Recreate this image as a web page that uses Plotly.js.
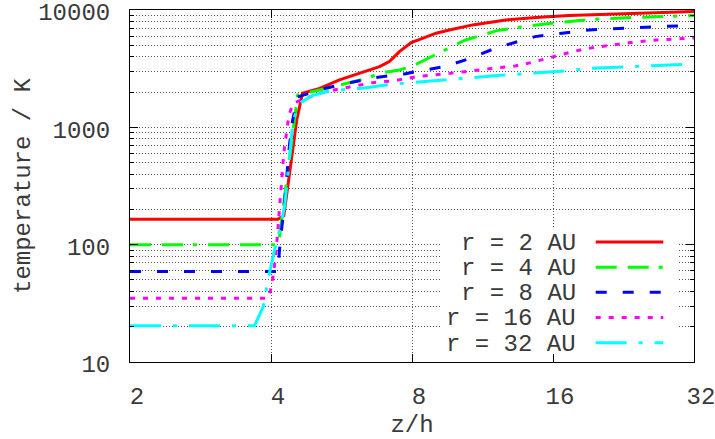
<!DOCTYPE html>
<html>
<head>
<meta charset="utf-8">
<script src="https://cdn.plot.ly/plotly-3.0.1.min.js"></script>
<style>html,body{margin:0;padding:0;background:#fff;}#chart{width:715px;height:439px;}</style>
</head>
<body>
<div id="chart"></div>
<script>
// ---- data (z/h, temperature in K) ----
const seriesNames = ["r = 2 AU", "r = 4 AU", "r = 8 AU", "r = 16 AU", "r = 32 AU"];

const zh_r2 = [2, 4.14, 4.26, 4.54, 4.67, 5.08, 5.6, 6.18, 6.82, 7.16, 7.52, 7.97, 8.43, 9.01, 9.61, 10.78, 12.69, 14.95, 17.3, 22, 27, 32];
const T_r2  = [165, 165, 176, 1157, 1950, 2150, 2536, 2892, 3292, 3631, 4420, 5276, 5750, 6342, 6763, 7465, 8235, 8683, 8958, 9200, 9450, 9690];

const zh_r4 = [2, 4.15, 4.24, 4.49, 4.56, 5.08, 5.83, 6.43, 6.82, 7.52, 7.97, 8.71, 9.46, 10.38, 12.08, 14.02, 16.25, 20.06, 24.6, 32];
const T_r4  = [100, 100, 198, 1157, 1888, 2084, 2404, 2622, 2892, 3086, 3292, 3906, 4632, 5527, 6637, 7278, 7800, 8397, 8683, 8958];

const zh_r8 = [2, 4.14, 4.17, 4.28, 4.38, 4.45, 4.56, 5.26, 5.83, 6.65, 7.71, 8.3, 9.4, 10.66, 12.04, 13.62, 14.65, 16.73, 19.1, 21.07, 23.93, 27.3, 32];
const T_r8  = [59, 59, 90, 240, 708, 1157, 1816, 2167, 2377, 2653, 2853, 3026, 3292, 3882, 4722, 5452, 5933, 6342, 6763, 6900, 7110, 7245, 7390];

const zh_r16 = [2, 3.94, 4.01, 4.09, 4.13, 4.17, 4.22, 4.26, 4.31, 4.37, 4.46, 5.03, 5.55, 6.59, 7.34, 8.22, 9.38, 10.69, 12.08, 13.28, 14.35, 15.31, 16.33, 17.32, 18.82, 20.56, 23.45, 26.67, 32];
const T_r16  = [35, 35, 43.6, 77, 123, 205, 344, 605, 861, 1276, 1606, 1926, 2113, 2404, 2500, 2706, 2853, 3026, 3228, 3338, 3560, 3828, 4062, 4333, 4688, 4944, 5276, 5559, 5780];

const zh_r32 = [2, 3.69, 3.85, 3.94, 4.07, 4.21, 4.28, 4.46, 4.61, 4.88, 5.34, 6.33, 7.23, 8.38, 10.4, 12.16, 14.37, 16.98, 19.2, 23.25, 32];
const T_r32  = [20.4, 20.4, 29.6, 50, 90, 153, 218, 1157, 1606, 1853, 2044, 2167, 2330, 2453, 2642, 2760, 2892, 3026, 3178, 3280, 3470];

const xTickVals = [2, 4, 8, 16, 32];
const xTickText = ["2", "4", "8", "16", "32"];
const yTickVals = [10, 100, 1000, 10000];
const yTickText = ["10", "100", "1000", "10000"];
const yMinorVals = [20,30,40,50,60,70,80,90,200,300,400,500,600,700,800,900,2000,3000,4000,5000,6000,7000,8000,9000];

// ---- styles ----
const colors = ["#ff0000", "#00ff00", "#0000ff", "#ff00ff", "#00ffff"];
const dashes = ["solid", "21px,11px,21px,10px,4px,11px", "11px,16px", "5px,8px", "31px,12px,4px,12px"];
const FONT = "Liberation Mono, Courier New, monospace";
const TXT = "#3a3a3a";

const xs = [zh_r2, zh_r4, zh_r8, zh_r16, zh_r32];
const ys = [T_r2, T_r4, T_r8, T_r16, T_r32];

const traces = xs.map((x, i) => ({
  x: x, y: ys[i], type: "scatter", mode: "lines", name: seriesNames[i],
  line: {color: colors[i], width: 3, dash: dashes[i]}, showlegend: false
}));

// manual gnuplot-style legend (text right, sample line to the right)
const legX0 = 0.8257, legX1 = 0.9456, legTextX = 0.7938;
const legY0 = 0.341, legStep = 0.0715;
const shapes = [{
  type: "rect", xref: "paper", yref: "paper",
  x0: 0.551, x1: 0.9716, y0: 0.025, y1: 0.381,
  fillcolor: "#ffffff", line: {width: 0}, layer: "above"
}];
const annotations = [];
seriesNames.forEach((nm, i) => {
  const yy = legY0 - i * legStep;
  shapes.push({type: "line", xref: "paper", yref: "paper",
    x0: legX0, x1: legX1, y0: yy, y1: yy,
    line: {color: colors[i], width: 3, dash: dashes[i]}, layer: "above"});
  annotations.push({xref: "paper", yref: "paper", x: legTextX, y: yy - 0.004,
    xanchor: "right", yanchor: "middle", showarrow: false, text: nm,
    font: {family: FONT, size: 24, color: TXT}});
});

const gridDash = "1px,2px";
const gridColor = "#555";

const layout = {
  width: 715, height: 439,
  margin: {l: 130, r: 21, t: 10, b: 77, pad: 0},
  paper_bgcolor: "#fff", plot_bgcolor: "#fff",
  font: {family: FONT, size: 24, color: TXT},
  showlegend: false,
  xaxis: {
    type: "log", range: [Math.log10(2) - 1e-5, Math.log10(32) + 1e-5],
    tickmode: "array", tickvals: xTickVals, ticktext: xTickText,
    ticks: "inside", ticklen: 8, tickwidth: 1, tickcolor: "#000",
    showline: true, linecolor: "#000", linewidth: 1, mirror: "ticks",
    showgrid: true, gridcolor: gridColor, griddash: gridDash, gridwidth: 1,
    zeroline: false, automargin: false, ticklabeloverflow: "allow",
    ticklabelstandoff: 12, ticklabelshift: 7,
    tickfont: {family: FONT, size: 24, color: TXT},
    title: {text: "z/h", font: {family: FONT, size: 24, color: TXT}, standoff: 6}
  },
  yaxis: {
    type: "log", range: [1 - 1e-5, 4 + 1e-5],
    tickmode: "array", tickvals: yTickVals, ticktext: yTickText,
    ticks: "inside", ticklen: 8, tickwidth: 1, tickcolor: "#000",
    showline: true, linecolor: "#000", linewidth: 1, mirror: "ticks",
    showgrid: true, gridcolor: gridColor, griddash: gridDash, gridwidth: 1,
    minor: {tickmode: "array", tickvals: yMinorVals, ticks: "inside", ticklen: 4,
            tickcolor: "#000", showgrid: true, gridcolor: gridColor, griddash: gridDash, gridwidth: 1},
    zeroline: false, automargin: false, ticklabeloverflow: "allow",
    ticklabelstandoff: 14, ticklabelshift: 2,
    tickfont: {family: FONT, size: 24, color: TXT},
    title: {text: "temperature / K", font: {family: FONT, size: 24, color: TXT}, standoff: 0}
  },
  shapes: shapes,
  annotations: annotations
};

Plotly.newPlot("chart", traces, layout, {staticPlot: true, displayModeBar: false});
</script>
</body>
</html>
